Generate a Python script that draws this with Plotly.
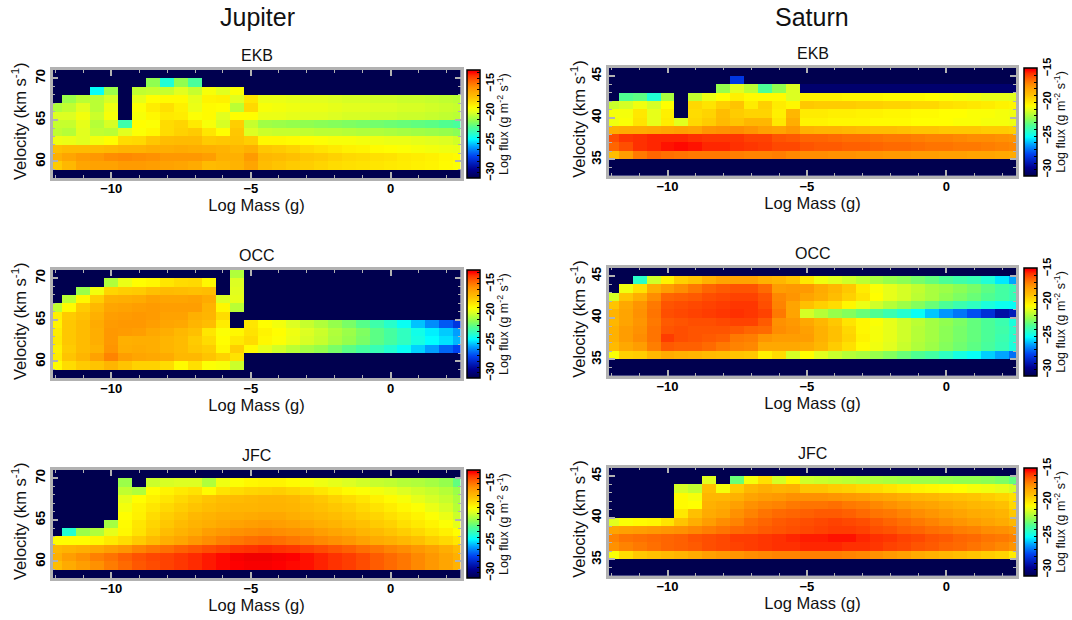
import plotly.graph_objects as go

D = -31.0
W, H = 1072, 620

log_mass = [-12.0, -11.5, -11.0, -10.5, -10.0, -9.5, -9.0, -8.5, -8.0, -7.5, -7.0, -6.5, -6.0, -5.5, -5.0,
            -4.5, -4.0, -3.5, -3.0, -2.5, -2.0, -1.5, -1.0, -0.5, 0.0, 0.5, 1.0, 1.5, 2.0, 2.5]
vel_jupiter = [70.5, 69.5, 68.5, 67.5, 66.5, 65.5, 64.5, 63.5, 62.5, 61.5, 60.5, 59.5, 58.5]
vel_saturn = [45.5, 44.5, 43.5, 42.5, 41.5, 40.5, 39.5, 38.5, 37.5, 36.5, 35.5, 34.5, 33.5]

jupiter_ekb = [
    [D]*30,
    [D]*7 + [-21.2, -23.6, -21.2, -22.5] + [D]*19,
    [D]*3 + [-24.2, -21, D, -20.3, -20.2, -20.2, -19.7, -20.2, -19.2, -19.7, -19.1] + [D]*16,
    [D, -21, -20.4, -20.4, -19.9, D, -19.6, -19, -18.9, -18.9, -19.6, -18.7, -18.6, -19.7, -18.3, -19.5, -19.5, -19.6, -19.7, -19.7, -19.8, -19.9, -19.9, -20, -20, -20.1, -20.1, -20.2, -20.3, -20.4],
    [-20.6, -20.3, -19.7, -20.4, -19.4, D, -19.1, -18.5, -18.1, -18.6, -19.5, -18.9, -19, -20.4, -17.9, -19.2, -19.3, -19.4, -19.5, -19.5, -19.6, -19.7, -19.7, -19.8, -19.8, -19.9, -19.9, -20, -20.1, -20.2],
    [-19.8, -19.8, -19.3, -20.1, -19.2, D, -19.2, -18.8, -18.4, -18.5, -19.1, -18.9, -19.7, -19, -19, -19.5, -19.5, -19.6, -19.7, -19.7, -19.8, -19.9, -19.9, -20, -20, -20.1, -20.1, -20.2, -20.3, -20.4],
    [-20.2, -20.2, -19.6, -20.5, -19.9, -22.8, -19, -19.1, -18, -17.8, -18.4, -19.2, -19.9, -17.6, -20.2, -20.9, -21, -21.1, -21.2, -21.3, -21.4, -21.5, -21.6, -21.7, -21.8, -21.9, -22, -22.1, -22.3, -22.5],
    [-20.3, -20.5, -19.7, -20.3, -20.4, -19.7, -19.1, -18.8, -18, -17.7, -17.5, -18.3, -19, -17.4, -19.8, -20.1, -20.2, -20.2, -20.3, -20.4, -20.4, -20.5, -20.6, -20.6, -20.7, -20.8, -20.9, -21, -21.1, -21.3],
    [-19.4, -19.5, -19.7, -19.3, -19, -18, -17.9, -17.4, -17.1, -17, -17, -17.5, -17.4, -17.3, -17.6, -18.8, -18.8, -18.9, -19, -19.1, -19.2, -19.2, -19.3, -19.4, -19.5, -19.5, -19.6, -19.7, -19.8, -20],
    [-17.2, -17, -17, -17, -16.9, -16.7, -16.7, -16.5, -16.5, -16.4, -16.5, -16.6, -16.7, -16.9, -16.6, -17.4, -17.5, -17.7, -18, -18.2, -18.4, -18.6, -18.7, -18.9, -19, -19.1, -19.2, -19.3, -19.4, -19.5],
    [-16.6, -16.2, -15.9, -15.8, -15.5, -15.4, -15.5, -15.6, -15.8, -15.8, -15.8, -16, -16.6, -16.6, -15.9, -16.9, -17, -17.2, -17.4, -17.5, -17.7, -17.9, -18, -18.1, -18.2, -18.4, -18.5, -18.6, -18.8, -18.9],
    [-17.5, -16.9, -16.2, -16.1, -16.1, -15.9, -15.9, -16, -16.1, -16.2, -16.4, -17, -16.9, -16.7, -16.2, -17.1, -17.3, -17.5, -17.6, -17.8, -18, -18.1, -18.2, -18.3, -18.4, -18.5, -18.6, -18.7, -18.9, -19.1],
    [D]*30,
]

jupiter_occ = [
    [D]*13 + [-20.6] + [D]*16,
    [D]*4 + [-20.6, -19.5, -19, -18.8, -18.3, -18, -17.9, -18.8, D, -19.8] + [D]*16,
    [D]*2 + [-21, -19.3, -17.8, -17.6, -17.5, -17.2, -17, -17.1, -17.2, -17.1, D, -19.7] + [D]*16,
    [D, -20.4, -18.8, -17.6, -16.6, -16.5, -16.4, -16.1, -16.2, -16.2, -16.1, -16.4, -19.8, -19.6] + [D]*16,
    [-20.3, -18.9, -17.5, -16.9, -16.2, -16.1, -16, -15.9, -16, -16, -16, -16.7, -18.8, -20.4] + [D]*16,
    [-18.6, -17.5, -17.2, -16.6, -16, -15.9, -15.8, -15.9, -16.1, -16.1, -16.6, -16.8, -18, D] + [D]*16,
    [-18.7, -17.4, -17, -16.4, -15.9, -15.8, -15.8, -16, -16.2, -16.3, -16.8, -17.1, -18.5, D, -18.3, -19, -19.3, -19.8, -20.2, -20.6, -21.1, -21.6, -22.2, -22.8, -23.4, -24.1, -25.1, -25.9, -26.8, -27.6],
    [-18.5, -17.4, -17, -16.5, -15.8, -15.9, -16, -16.3, -16.5, -16.9, -17.2, -18.3, -19.1, -18.8, -18.2, -18.7, -19, -19.4, -19.8, -20.1, -20.6, -21, -21.5, -22.1, -22.6, -23.2, -23.9, -24.5, -25, -25.6],
    [-18.4, -17.4, -17, -16.5, -15.8, -16.6, -16.5, -16.5, -16.8, -17, -17.5, -18, -19, -18.4, -18, -18.8, -19.1, -19.5, -19.9, -20.2, -20.7, -21.1, -21.6, -22.1, -22.6, -23.2, -23.8, -24.3, -24.7, -25.3],
    [-18.6, -17.5, -17, -16.7, -15.7, -16.5, -16.4, -16.5, -16.8, -17, -17.4, -17.6, -18.8, -17.6, -18.9, -19.6, -20, -20.4, -20.8, -21.1, -21.6, -22.1, -22.6, -23, -23.5, -24.1, -24.9, -25.6, -26.6, -27.2],
    [-18.5, -17.3, -16.8, -16.1, -15.3, -16, -16.2, -16.3, -16.4, -16.9, -16.9, -17.3, -17.7, -18.2] + [D]*16,
    [-18.9, -18, -17.5, -17.3, -16.8, -17.3, -17.7, -17.7, -18, -18.9, -18.1, -19.1, -19.2, -20.1] + [D]*16,
    [D]*30,
]

jupiter_jfc = [
    [D]*30,
    [D]*5 + [-21, D, -20.1, -19.9, -19.8, -19.8, -20.6, -19.4, -19.1, -18.8, -18.7, -18.7, -18.9, -19.2, -19.4, -19.6, -19.8, -20, -20.2, -20.3, -20.5, -20.6, -20.8, -21.1, -22],
    [D]*5 + [-20.3, -20.6, -19, -18.7, -18.4, -18.2, -18.9, -18.2, -18, -17.8, -17.7, -17.6, -17.8, -18, -18.3, -18.6, -18.9, -19.1, -19.3, -19.5, -19.8, -20, -20.2, -20.5, -21],
    [D]*5 + [-19.6, -19, -18.6, -18.3, -17.9, -17.6, -17.3, -17.1, -17, -16.9, -16.8, -16.8, -16.9, -17.2, -17.4, -17.7, -18, -18.3, -18.6, -18.9, -19.2, -19.6, -19.9, -20.2, -20.7],
    [D]*5 + [-19.3, -18.7, -18.3, -17.9, -17.6, -17.3, -17.1, -16.9, -16.8, -16.8, -16.7, -16.7, -16.8, -17, -17.2, -17.4, -17.6, -17.9, -18.2, -18.5, -18.8, -19.1, -19.5, -19.9, -20.5],
    [D]*5 + [-19, -18.6, -18, -17.6, -17.3, -16.9, -16.7, -16.5, -16.5, -16.4, -16.3, -16.3, -16.5, -16.7, -16.9, -17.1, -17.3, -17.6, -17.8, -18.1, -18.4, -18.7, -19.1, -19.5, -20.1],
    [D]*4 + [-20.8, -18.9, -18.3, -17.8, -17.4, -17, -16.7, -16.5, -16.3, -16.1, -16, -15.9, -16, -16.1, -16.3, -16.5, -16.7, -17, -17.2, -17.5, -17.7, -18.1, -18.4, -18.7, -19.1, -19.6],
    [D, -23.5, -21, -20.6, -19.6, -18.8, -18.2, -17.6, -17.1, -16.7, -16.4, -16, -15.8, -15.6, -15.5, -15.4, -15.5, -15.6, -15.7, -16, -16.2, -16.4, -16.8, -17, -17.3, -17.6, -17.9, -18.3, -18.6, -19],
    [-19, -19, -19, -18.8, -18.4, -18, -17.5, -17, -16.5, -16.2, -15.8, -15.5, -15.2, -15, -14.8, -14.7, -14.8, -15, -15.2, -15.4, -15.6, -15.8, -16.1, -16.4, -16.6, -16.9, -17.2, -17.6, -17.9, -18.3],
    [-16.9, -16.7, -16.5, -16.3, -16, -15.7, -15.3, -15, -14.8, -14.5, -14.3, -14.1, -13.9, -13.7, -13.6, -13.5, -13.6, -13.7, -13.9, -14.1, -14.3, -14.5, -14.8, -15, -15.3, -15.5, -15.8, -16.1, -16.5, -17],
    [-16.6, -16, -15.6, -15.2, -14.9, -14.5, -14.2, -14, -13.9, -13.7, -13.5, -13.3, -13.1, -12.9, -12.8, -12.8, -12.9, -13, -13.2, -13.4, -13.6, -13.8, -14.1, -14.4, -14.7, -15, -15.4, -15.8, -16.2, -16.6],
    [-17.1, -16.4, -16, -15.6, -15.1, -14.7, -14.3, -14.1, -13.9, -13.7, -13.5, -13.3, -13.1, -13, -12.9, -12.9, -13, -13.1, -13.2, -13.4, -13.6, -13.8, -14.1, -14.4, -14.7, -15, -15.4, -15.8, -16.2, -16.7],
    [D]*30,
]

saturn_ekb = [
    [D]*30,
    [D]*9 + [-28] + [D]*20,
    [D]*8 + [-22.3, -21.1, -21.7, -23.5, -22.4, -21.2] + [-30.3]*16,
    [D, -23.4, -23.2, -24.5, -22, D, -21.6, -20.9, -20.5, -20.1, -20.4, -20.4, -20.4, -21.2, -20.2, -20.2, -20.2, -20.3, -20.3, -20.3, -20.4, -20.4, -20.4, -20.5, -20.6, -20.7, -20.8, -21, -21, -21.1],
    [-21.5, -21.3, -20.8, -21.3, -20.5, D, -19.5, -19.8, -19.3, -19, -20, -19.3, -20, -20.3, -19.1, -19.2, -19.2, -19.2, -19.3, -19.3, -19.4, -19.4, -19.5, -19.5, -19.7, -19.8, -19.9, -20, -20.2, -20.3],
    [-20.7, -20.7, -19.9, -21, -20.1, D, -19.6, -19.4, -18.8, -19.2, -19.4, -19.4, -20.1, -18.6, -20, -20, -20.1, -20.1, -20.2, -20.2, -20.3, -20.3, -20.4, -20.4, -20.5, -20.5, -20.6, -20.6, -20.7, -20.8],
    [-20.8, -20.6, -19.8, -21, -20, -21.1, -19.5, -19.2, -18.7, -19, -18.6, -18.6, -19.9, -18.3, -20.2, -20.2, -20.3, -20.3, -20.3, -20.4, -20.4, -20.4, -20.5, -20.5, -20.5, -20.6, -20.6, -20.7, -20.7, -20.8],
    [-18.3, -18.2, -18.2, -18.1, -18, -17.9, -18, -17.6, -17.5, -17.4, -17.6, -17.9, -18, -17.7, -18.4, -18.5, -18.5, -18.6, -18.7, -18.8, -18.8, -18.9, -19, -19, -19.1, -19.1, -19.1, -19.2, -19.2, -19.3],
    [-16.2, -15.8, -15.7, -15.6, -15.6, -15.6, -15.7, -15.8, -15.8, -15.8, -16, -16, -16.3, -16.4, -16.6, -16.6, -16.7, -16.8, -16.8, -16.9, -17, -17, -17.1, -17.2, -17.2, -17.3, -17.4, -17.4, -17.5, -17.6],
    [-16.6, -16.2, -15.7, -15.6, -15.4, -15.3, -15.4, -15.6, -15.6, -15.7, -15.8, -15.9, -16.1, -16.1, -16.3, -16.4, -16.4, -16.5, -16.5, -16.6, -16.7, -16.7, -16.8, -16.9, -16.9, -17, -17, -17.1, -17.2, -17.3],
    [-18.8, -17.8, -17, -16.6, -16.8, -16.9, -17, -17, -17, -17.1, -17.2, -17.2, -17.1, -17.3, -17.4, -17.4, -17.5, -17.5, -17.6, -17.6, -17.7, -17.7, -17.8, -17.8, -17.9, -17.9, -18, -18, -18.1, -18.2],
    [D]*30,
    [D]*30,
]

saturn_occ = [
    [D]*30,
    [D]*2 + [-24.3, -21.4, -20.2, -19.3, -19, -18.4, -18, -18, -18, -18.4, -18.6, -19, -19.9, -20.8, -21.1, -21.4, -21.7, -22, -22.3, -22.5, -22.8, -23.1, -23.5, -23.8, -24, -24.5, -25.4, -26.2],
    [D, -20.8, -19.7, -18.3, -17.8, -17.4, -17, -16.6, -16.4, -16.3, -16.3, -16.7, -17.8, -17.7, -17.7, -18.2, -18.6, -19.1, -20, -20.6, -21, -21.3, -21.6, -22, -22.2, -22.5, -22.8, -23.2, -23.7, -24],
    [-21.3, -19, -18.3, -17.4, -16.6, -16.5, -16.4, -16.2, -16.1, -16, -16, -16.3, -17.3, -17.6, -18, -18.3, -18.8, -19.3, -19.8, -20.5, -21, -21.3, -21.7, -22, -22.4, -22.7, -23, -23.4, -23.7, -24],
    [-19, -18.1, -17.6, -17, -16.3, -16.2, -16.1, -16, -15.9, -15.8, -15.8, -16.2, -17.2, -18, -18.9, -19.3, -19.6, -20.3, -20.9, -21.4, -21.8, -22.2, -22.6, -23, -23.5, -23.9, -24.2, -24.6, -24.9, -25],
    [-18.5, -18, -17.5, -16.9, -16.2, -16.1, -16, -15.9, -15.8, -15.7, -15.8, -16, -17, -18, -21.3, -21.8, -22.3, -22.6, -23, -23.4, -23.9, -24.4, -25, -25.8, -26.4, -26.9, -27.5, -28.2, -29.2, -28.8],
    [-18.6, -18, -17.6, -17, -16.4, -16.3, -16.2, -16.2, -16.1, -16, -16, -16.4, -17.5, -17.7, -18.1, -18.6, -19.1, -19.8, -20.3, -20.6, -21, -21.4, -21.7, -22.1, -22.4, -22.7, -23.1, -23.5, -23.9, -24.6],
    [-18.4, -17.8, -17.5, -16.9, -16.3, -16.2, -16.3, -16.3, -16.3, -16.4, -16.6, -16.7, -17.4, -17.6, -17.9, -18.4, -18.9, -19.5, -20.3, -20.7, -21, -21.4, -21.8, -22.1, -22.5, -22.8, -23.1, -23.5, -23.8, -24.3],
    [-18.4, -17.8, -17.4, -16.9, -15.9, -16.2, -16.3, -16.4, -16.5, -17, -17.1, -17.6, -17.8, -17.8, -17.8, -18.4, -18.9, -19.4, -20.2, -20.7, -21, -21.4, -21.8, -22.1, -22.5, -22.8, -23.1, -23.5, -23.9, -24.4],
    [-18.7, -18.1, -17.8, -17.1, -16.4, -16.5, -16.5, -16.7, -17, -17.2, -17.3, -18.1, -18.1, -18.1, -18.2, -18.6, -19.2, -19.7, -20.4, -20.8, -21.1, -21.5, -21.9, -22.2, -22.6, -22.9, -23.2, -23.6, -24, -24.6],
    [-20.6, -19.3, -19.2, -18.6, -18.2, -18.4, -18.5, -18.7, -18.8, -19, -19.1, -20.1, -19.6, -21.3, -20.5, -21.1, -21.5, -21.8, -22, -22.3, -22.6, -23, -23.4, -23.7, -24.2, -24.7, -25, -25.7, -26.2, -27],
    [D]*30,
    [D]*30,
]

saturn_jfc = [
    [D]*30,
    [D]*7 + [-21.1, D, -23, -20.7, -19.7, -21.3, -20.3, -21.4, -21.5, -21.6, -21.7, -21.8, -21.9, -22, -22.1, -22.2, -22.2, -22.3, -22.4, -22.4, -22.5, -22.7, -23.1],
    [D]*5 + [-21.3, -21.6, -18.9, -20.7, -19.2, -18.6, -18.3, -18.5, -18.4, -19, -19, -19.2, -19.3, -19.5, -19.6, -19.8, -20, -20.2, -20.3, -20.4, -20.5, -20.7, -20.8, -21, -21.3],
    [D]*5 + [-20.4, -20.7, -18.6, -18.6, -18.4, -18, -17.8, -17.7, -17.5, -17.5, -17.5, -17.6, -17.7, -17.8, -18, -18.1, -18.3, -18.5, -18.6, -18.8, -18.9, -19, -19.2, -19.4, -19.7],
    [D]*5 + [-20.4, -20.5, -18.4, -18.2, -17.9, -17.5, -17.3, -17.2, -17, -16.9, -16.9, -16.8, -17, -17.1, -17.3, -17.5, -17.7, -17.9, -18, -18.2, -18.4, -18.6, -18.7, -18.9, -19.5],
    [D]*5 + [-19.9, -18.9, -18.2, -18, -17.5, -17.2, -16.9, -16.7, -16.6, -16.5, -16.4, -16.4, -16.5, -16.7, -16.9, -17, -17.2, -17.4, -17.6, -17.8, -18, -18.2, -18.3, -18.5, -19.1],
    [-21.1, -20.6, -20.4, -20.3, -19.8, -19, -18.3, -17.8, -17.4, -17.2, -16.8, -16.6, -16.4, -16.3, -16.2, -16.1, -16, -16.1, -16.2, -16.4, -16.6, -16.8, -17, -17.2, -17.4, -17.6, -17.8, -18, -18.2, -18.6],
    [-18, -17.9, -17.8, -17.7, -17.6, -17.5, -17.3, -17.1, -16.9, -16.7, -16.6, -16.4, -16.3, -16.2, -16.1, -16, -15.9, -15.9, -16, -16.2, -16.3, -16.5, -16.6, -16.8, -16.9, -17.1, -17.2, -17.4, -17.5, -17.7],
    [-17.2, -16.9, -16.8, -16.7, -16.6, -16.5, -16.3, -16.2, -16.1, -15.9, -15.9, -15.8, -15.7, -15.6, -15.5, -15.5, -15.4, -15.4, -15.6, -15.7, -15.8, -16, -16.1, -16.3, -16.4, -16.6, -16.7, -16.9, -17, -17.2],
    [-17.5, -17.2, -17, -16.8, -16.6, -16.5, -16.4, -16.2, -16.1, -16, -15.9, -15.8, -15.7, -15.7, -15.6, -15.6, -15.6, -15.7, -15.7, -15.8, -16, -16.1, -16.3, -16.4, -16.6, -16.7, -16.9, -17.1, -17.3, -17.6],
    [-20.6, -19.6, -19.1, -18.9, -18.7, -18.5, -18.2, -17.9, -17.7, -17.6, -17.4, -17.3, -17.2, -17.2, -17.1, -17.1, -17.1, -17.2, -17.3, -17.5, -17.7, -17.9, -18.2, -18.4, -18.6, -18.8, -19, -19.2, -19.4, -20],
    [D]*30,
    [D]*30,
]

cmap = [[0, "#00004f"], [0.08, "#000090"], [0.2, "#0040f0"], [0.29, "#00a0ff"], [0.36, "#00ffff"],
        [0.42, "#30ffc0"], [0.47, "#50ff90"], [0.53, "#90ff50"], [0.58, "#c0ff30"], [0.61, "#e0ff20"],
        [0.65, "#ffff00"], [0.70, "#ffe000"], [0.75, "#ffc000"], [0.80, "#ffa800"], [0.84, "#ff9000"],
        [0.90, "#ff6000"], [0.95, "#ff3000"], [0.98, "#ff0000"], [1, "#e80000"]]

FONT = "Liberation Sans, Arial, Helvetica, sans-serif"
FRAME = "#b2b2b2"

panels = [
    ("EKB", jupiter_ekb, "J", 70.0, 178.0, 55),
    ("OCC", jupiter_occ, "J", 270.0, 378.0, 255),
    ("JFC", jupiter_jfc, "J", 470.0, 578.0, 455),
    ("EKB", saturn_ekb, "S", 67.7, 176.0, 53.5),
    ("OCC", saturn_occ, "S", 267.7, 376.0, 253.5),
    ("JFC", saturn_jfc, "S", 467.7, 576.0, 453.5),
]
planet = {
    "J": dict(x0=52.5, x1=460.5, cb=467, vel=vel_jupiter, yr=[58, 71], yt=[60, 65, 70], zr=[-30.85, -12.65],
              ytit=19, cbt=503),
    "S": dict(x0=609.0, x1=1016.0, cb=1024, vel=vel_saturn, yr=[33, 46], yt=[35, 40, 45], zr=[-30.9, -14.9],
              ytit=578, cbt=1060),
}

fig = go.Figure()
annotations = []
layout = {}
for i, (name, z, p, top, bot, tity) in enumerate(panels):
    for row in z:
        if len(row) != 30:
            raise ValueError((name, p, len(row)))
    P = planet[p]
    s = "" if i == 0 else str(i + 1)
    zmin, zmax = P["zr"]
    fig.add_trace(go.Heatmap(
        x=log_mass, y=P["vel"], z=z, xaxis="x" + s, yaxis="y" + s,
        colorscale=cmap, zmin=zmin, zmax=zmax,
        colorbar=dict(
            x=P["cb"] / W, xanchor="left", xpad=0, ypad=0,
            y=1 - bot / H, yanchor="bottom", len=(bot - top) / H, lenmode="fraction",
            thickness=13, thicknessmode="pixels",
            outlinecolor="black", outlinewidth=1.5, borderwidth=0,
            tickmode="linear", tick0=-30, dtick=1, ticklabelstep=5,
            ticks="inside", ticklen=3, tickwidth=1, tickcolor="black",
            tickangle=-90, tickfont=dict(family=FONT, size=11, color="black", weight=700),
        ),
    ))
    layout["xaxis" + s] = dict(
        domain=[P["x0"] / W, P["x1"] / W], range=[-12.1, 2.5], anchor="y" + s,
        tickvals=[-10, -5, 0], ticks="inside", ticklen=6, tickwidth=1.5, tickcolor=FRAME,
        minor=dict(tickvals=list(range(-12, 3)), ticks="inside", ticklen=3, tickwidth=1, tickcolor=FRAME),
        showline=True, mirror="allticks", linecolor=FRAME, linewidth=2.5, showgrid=False, zeroline=False,
        tickfont=dict(family=FONT, size=13, color="black", weight=700), ticklabelstandoff=-3,
        title=dict(text="Log Mass (g)", font=dict(family=FONT, size=16.5, color="#111"), standoff=5),
    )
    layout["yaxis" + s] = dict(
        domain=[1 - bot / H, 1 - top / H], range=P["yr"], anchor="x" + s,
        tickvals=P["yt"], ticks="inside", ticklen=6, tickwidth=1.5, tickcolor=FRAME, tickangle=-90,
        minor=dict(dtick=1, ticks="inside", ticklen=3, tickwidth=1, tickcolor=FRAME),
        showline=True, mirror="allticks", linecolor=FRAME, linewidth=2.5, showgrid=False, zeroline=False,
        tickfont=dict(family=FONT, size=13, color="black", weight=700),
    )
    annotations.append(dict(text=name, x=(P["x0"] + P["x1"]) / 2 / W, y=1 - tity / H, xref="paper", yref="paper",
                            showarrow=False, xanchor="center", yanchor="middle",
                            font=dict(family=FONT, size=16, color="#111")))
    annotations.append(dict(text="Velocity (km s<sup>-1</sup>)", x=P["ytit"] / W, y=1 - ((top + bot) / 2 - 3) / H,
                            xref="paper", yref="paper", showarrow=False, textangle=-90, xanchor="center",
                            yanchor="middle", font=dict(family=FONT, size=16.5, color="#111")))
    annotations.append(dict(text="Log flux (g m<sup>-2</sup> s<sup>-1</sup>)", x=P["cbt"] / W, y=1 - (top + bot) / 2 / H,
                            xref="paper", yref="paper", showarrow=False, textangle=-90, xanchor="center",
                            yanchor="middle", font=dict(family=FONT, size=12.5, color="#111")))

annotations.append(dict(text="Jupiter", x=257 / W, y=1 - 17 / H, xref="paper", yref="paper", showarrow=False,
                        xanchor="center", yanchor="middle", font=dict(family=FONT, size=25, color="#111")))
annotations.append(dict(text="Saturn", x=812 / W, y=1 - 17 / H, xref="paper", yref="paper", showarrow=False,
                        xanchor="center", yanchor="middle", font=dict(family=FONT, size=25, color="#111")))

fig.update_layout(width=W, height=H, margin=dict(l=0, r=0, t=0, b=0), paper_bgcolor="white",
                  plot_bgcolor="white", showlegend=False, annotations=annotations, **layout)
fig.write_html("out.html", config={"displayModeBar": False},
               post_script="document.body.style.margin='0';document.documentElement.style.overflow='hidden';")
